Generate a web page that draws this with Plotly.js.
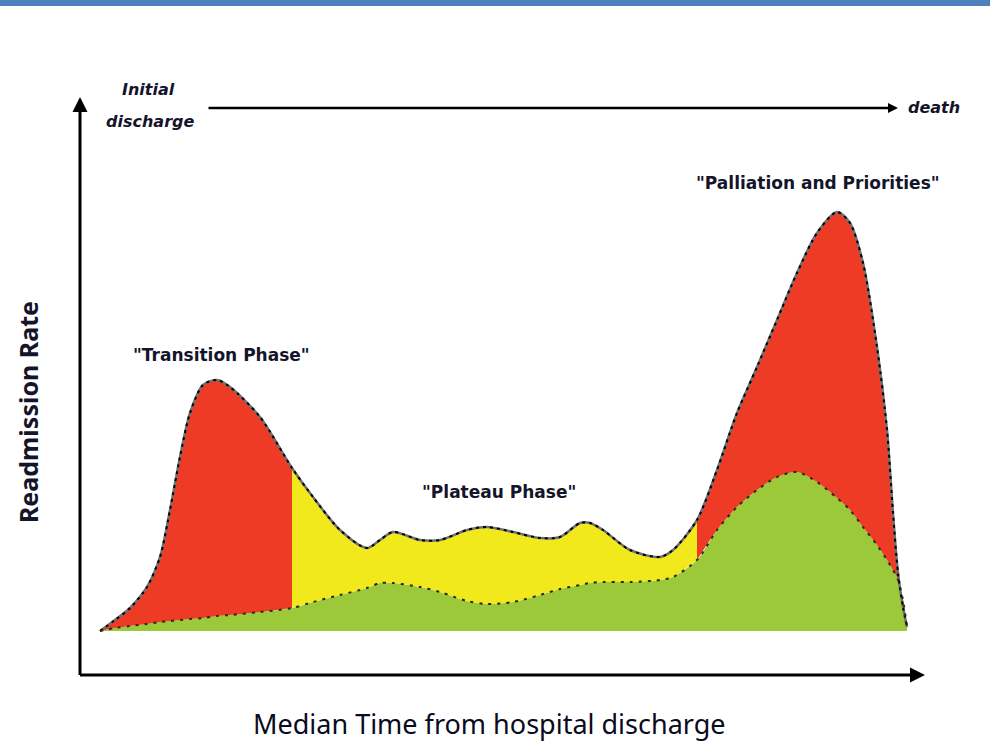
<!DOCTYPE html>
<html>
<head>
<meta charset="utf-8">
<script src="https://cdn.plot.ly/plotly-3.0.1.min.js"></script>
<style>html,body{margin:0;padding:0;background:#fff;}#chart{width:990px;height:743px;}</style>
</head>
<body>
<div id="chart"></div>
<script>
// Conceptual diagram values (arbitrary units)
const time = [0,15,30,47,60,70,80,90,103,117,130,160,192,213,240,267,280,293,320,340,367,387,413,440,460,480,490,503,530,560,573,597,617,637,657,677,697,717,737,750,763,777,787,793,798,803,807];
const totalRate = [0,11,23,44,74,121,174,218,246,251,244,214,163,134,101,83,91,99,91,91,101,104,99,93,94,108,108,101,81,74,81,111,161,218,264,311,358,398,419,408,368,284,201,118,58,24,4];
const baseRate = [0,3,5,7,9,10,11,12,13,15,16,19,23,29,36,43,48,48,44,39,30,27,29,36,42,46,48,49,49,51,54,71,101,124,141,154,159,149,133,121,104,86,71,61,51,31,4];
const phaseBounds = [192, 597];           // transition end, plateau end
const phaseColors = ['#EE3B25', '#F1E91B', '#EE3B25'];
const phaseLabels = ['"Transition Phase"', '"Plateau Phase"', '"Palliation and Priorities"'];
const timelineLabels = ['Initial', 'discharge', 'death'];
const xTitle = 'Median Time from hospital discharge';
const yTitle = 'Readmission Rate';

const GREEN = '#9BC93A';
const SM = 0.8;
const traces = [];
traces.push({x: time, y: baseRate, mode: 'lines', fill: 'tozeroy', fillcolor: GREEN,
  line: {width: 0, shape: 'spline', smoothing: SM}, hoverinfo: 'skip'});

const i1 = time.indexOf(phaseBounds[0]);
const i2 = time.indexOf(phaseBounds[1]);
const segs = [[0, i1], [i1, i2], [i2, time.length - 1]];
segs.forEach((s, k) => {
  const xs = time.slice(s[0], s[1] + 1);
  traces.push({x: xs, y: baseRate.slice(s[0], s[1] + 1), mode: 'lines',
    line: {width: 0, shape: 'spline', smoothing: SM}, hoverinfo: 'skip'});
  traces.push({x: xs, y: totalRate.slice(s[0], s[1] + 1), mode: 'lines', fill: 'tonexty',
    fillcolor: phaseColors[k], line: {width: 0, shape: 'spline', smoothing: SM}, hoverinfo: 'skip'});
});
traces.push({x: time, y: totalRate, mode: 'lines', line: {color: '#707070', width: 2.5, shape: 'spline', smoothing: SM}, hoverinfo: 'skip'});
traces.push({x: time, y: totalRate, mode: 'lines', line: {color: '#000', width: 2, dash: '3px,4px', shape: 'spline', smoothing: SM}, hoverinfo: 'skip'});
traces.push({x: time, y: baseRate, mode: 'lines', line: {color: '#2b2b14', width: 2, dash: '3px,6px', shape: 'spline', smoothing: SM}, hoverinfo: 'skip'});

const TXT = '#14142a';
const lblFont = {family: 'DejaVu Sans, sans-serif', size: 17, color: TXT, weight: 'bold'};
const itFont = {family: 'DejaVu Sans, sans-serif', size: 16, color: TXT, style: 'italic', weight: 'bold'};
const C = {xanchor: 'center', yanchor: 'middle', showarrow: false};
const annotations = [
  // axis arrows
  {x: 825, y: -44, ax: -21.5, ay: -44, axref: 'x', ayref: 'y', xref: 'x', yref: 'y', text: '', showarrow: true, arrowhead: 2, arrowsize: 1, arrowwidth: 3, arrowcolor: '#000', standoff: 0},
  {x: -20, y: 534, ax: -20, ay: -45.5, axref: 'x', ayref: 'y', xref: 'x', yref: 'y', text: '', showarrow: true, arrowhead: 2, arrowsize: 1, arrowwidth: 3, arrowcolor: '#000', standoff: 0},
  // timeline arrow
  {x: 798, y: 523, ax: 107, ay: 523, axref: 'x', ayref: 'y', xref: 'x', yref: 'y', text: '', showarrow: true, arrowhead: 2, arrowsize: 0.8, arrowwidth: 2.5, arrowcolor: '#000', standoff: 0},
  Object.assign({x: 0.0804, y: 1.0104, xref: 'paper', yref: 'paper', text: timelineLabels[0], font: itFont}, C),
  Object.assign({x: 0.0827, y: 0.9568, xref: 'paper', yref: 'paper', text: timelineLabels[1], font: itFont}, C),
  Object.assign({x: 1.0095, y: 0.981, xref: 'paper', yref: 'paper', text: timelineLabels[2], font: itFont}, C),
  // phase labels
  Object.assign({x: 121, y: 276, xref: 'x', yref: 'y', text: phaseLabels[0], font: lblFont}, C),
  Object.assign({x: 399, y: 139, xref: 'x', yref: 'y', text: phaseLabels[1], font: lblFont}, C),
  Object.assign({x: 718, y: 448, xref: 'x', yref: 'y', text: phaseLabels[2], font: lblFont}, C),
  // axis titles
  Object.assign({x: -0.0615, y: 0.454, xref: 'paper', yref: 'paper', text: yTitle, textangle: -90,
    font: {family: 'Noto Sans, sans-serif', size: 25, color: TXT, weight: 'bold'}}, C),
  Object.assign({x: 0.4846, y: -0.0835, xref: 'paper', yref: 'paper', text: xTitle,
    font: {family: 'Noto Sans, sans-serif', size: 27, color: '#0a0a20'}}, C)
];

const layout = {
  width: 990, height: 743,
  margin: {l: 80, r: 64, t: 96, b: 68},
  paper_bgcolor: '#fff', plot_bgcolor: '#fff',
  showlegend: false,
  xaxis: {range: [-20, 826], showgrid: false, zeroline: false, showticklabels: false, ticks: '', showline: false, fixedrange: true},
  yaxis: {range: [-44, 535], showgrid: false, zeroline: false, showticklabels: false, ticks: '', showline: false, fixedrange: true},
  shapes: [{type: 'rect', xref: 'paper', yref: 'paper', x0: -0.2, x1: 1.2, y0: 1.1555, y1: 1.2, fillcolor: '#4D80BD', line: {width: 0}}],
  annotations: annotations
};
Plotly.newPlot('chart', traces, layout, {staticPlot: true, displayModeBar: false});
</script>
</body>
</html>
